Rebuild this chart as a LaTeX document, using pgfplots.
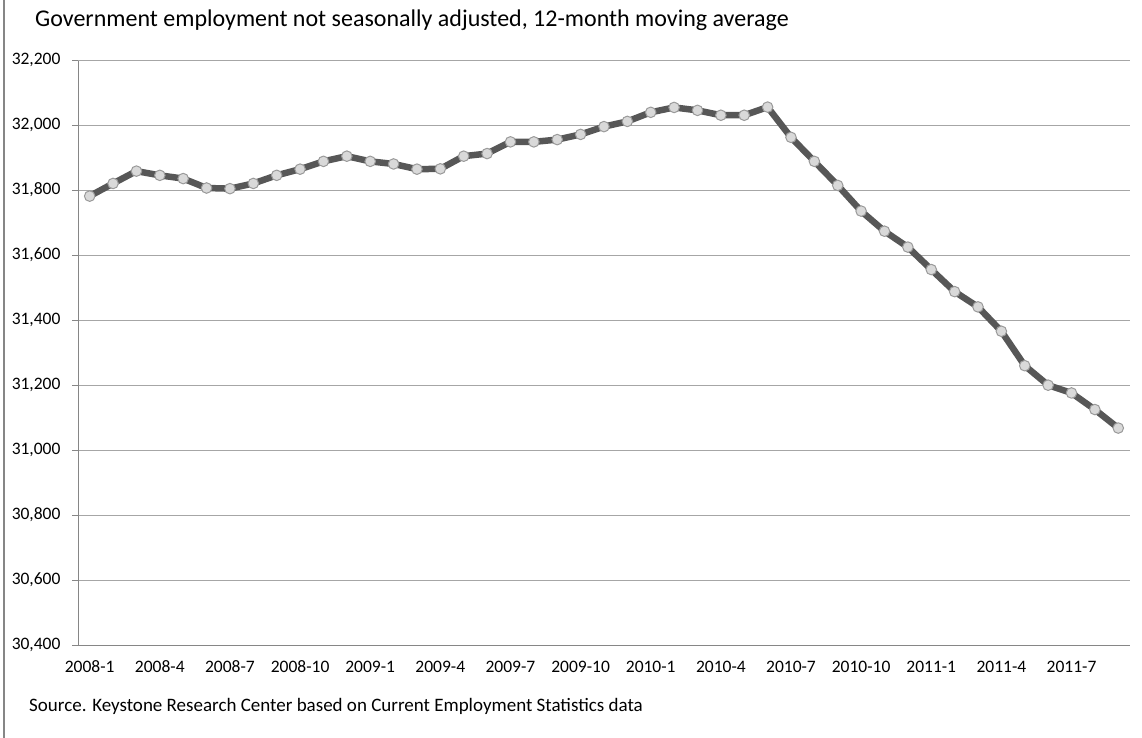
\documentclass[border=0pt]{standalone}
\usepackage{pgfplots}
\pgfplotsset{compat=1.18}
\usepackage{fontspec}
\setmainfont{Carlito}
\definecolor{lineg}{HTML}{575757}
\definecolor{markf}{HTML}{D9D9D9}
\definecolor{markd}{HTML}{9A9A9A}
\definecolor{gridg}{HTML}{A6A6A6}
\definecolor{axisg}{HTML}{868686}
\begin{document}
\begin{tikzpicture}[x=1pt,y=1pt]
\path[use as bounding box] (0,0) rectangle (1142,738);
\draw[axisg, line width=1.2pt] (4,0) -- (4,738);
\node[anchor=base west, inner sep=0pt, font=\fontsize{24}{28}\selectfont] at (35,711) {Government employment not seasonally adjusted, 12-month moving average};
\node[anchor=base west, inner sep=0pt, font=\fontsize{19}{22}\selectfont] at (29,26) {Source. Keystone Research Center based on Current Employment Statistics data};
\begin{axis}[
  at={(78pt,92.3pt)}, anchor=south west,
  scale only axis, width=1052pt, height=584.7pt,
  xmin=-0.5, xmax=44.5, ymin=30400, ymax=32200,
  axis x line=bottom, axis y line=left,
  axis line style={axisg, line width=1pt, -},
  ytick={30400,30600,...,32200},
  ymajorgrids, grid style={gridg, line width=1pt},
  xtick={0,3,...,42},
  xticklabels={2008-1,2008-4,2008-7,2008-10,2009-1,2009-4,2009-7,2009-10,2010-1,2010-4,2010-7,2010-10,2011-1,2011-4,2011-7},
  minor xtick={2.5,5.5,...,44.5},
  tick align=outside,
  major tick length=6pt, minor tick length=6pt,
  xtick style={draw=none},
  minor tick style={axisg, line width=1pt},
  ytick style={axisg, line width=1pt},
  scaled y ticks=false,
  typeset ticklabels with strut,
  /pgf/number format/.cd, 1000 sep={,}, assume math mode=true,
  /pgfplots/.cd,
  ticklabel style={font=\fontsize{17.5}{20}\selectfont, black},
  yticklabel style={xshift=-8pt},
  xticklabel style={yshift=-3pt},
  clip=false,
]
\addplot[lineg, line width=6.5pt, line join=round, mark=*, mark size=5.3pt,
  mark options={fill=markf, draw=markd, line width=1pt}] coordinates {
(0,31784) (1,31823) (2,31861) (3,31848) (4,31838) (5,31809) (6,31807) (7,31823) (8,31848)
(9,31867) (10,31891) (11,31907) (12,31891) (13,31883) (14,31867) (15,31868)
(16,31907) (17,31915) (18,31951) (19,31951) (20,31958) (21,31974) (22,31998)
(23,32014) (24,32042) (25,32057) (26,32048) (27,32033) (28,32033) (29,32058)
(30,31965) (31,31891) (32,31817) (33,31738) (34,31676) (35,31627) (36,31558)
(37,31490) (38,31443) (39,31368) (40,31262) (41,31202) (42,31178) (43,31127) (44,31070)
};
\end{axis}
\end{tikzpicture}
\end{document}
